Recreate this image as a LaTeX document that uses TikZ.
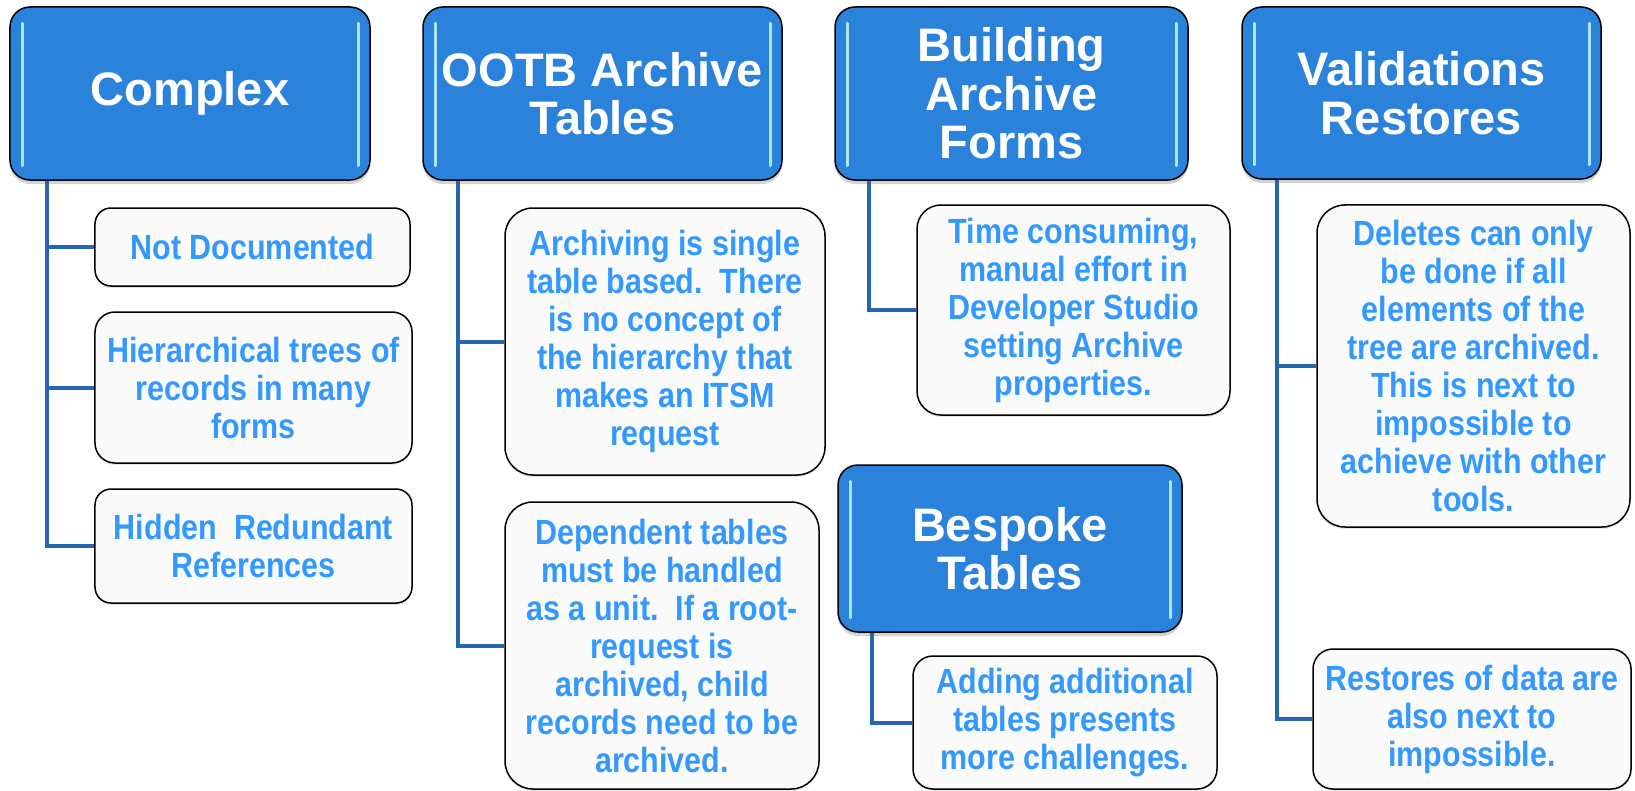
\documentclass[tikz,border=0pt]{standalone}
\usepackage{fontspec}
\setmainfont{Liberation Sans}
\newfontfamily\narrowfont{Liberation Sans}[FakeStretch=0.87]
\usetikzlibrary{shadows}
\definecolor{hdrblue}{RGB}{42,130,218}
\definecolor{txtblue}{RGB}{51,153,255}
\definecolor{connblue}{RGB}{38,102,176}
\definecolor{hilite}{RGB}{170,228,255}
\definecolor{boxfill}{RGB}{250,250,250}
\tikzset{
  hdr/.style={draw=black, line width=1.5bp, fill=hdrblue, rounded corners=20bp,
    text=white, align=center, inner sep=0pt,
    font=\bfseries\fontsize{47bp}{48.5bp}\selectfont,
    drop shadow={shadow xshift=0bp, shadow yshift=-4bp, opacity=0.35, fill=gray}},
  child/.style={draw=black, line width=1.5bp, fill=boxfill, rounded corners=16bp,
    text=txtblue, align=center, inner sep=0pt,
    font=\narrowfont\bfseries\fontsize{35bp}{38bp}\selectfont,
    drop shadow={shadow xshift=0bp, shadow yshift=-2bp, opacity=0.2, fill=gray}},
  bigchild/.style={child, rounded corners=28bp},
  conn/.style={draw=connblue, line width=4bp},
  hl/.style={draw=hilite, line width=3bp, line cap=round}
}
\begin{document}
\begin{tikzpicture}[x=1bp, y=-1bp]
\useasboundingbox (0,0) rectangle (1635,791);
% headers
\node[hdr, minimum width=360bp, minimum height=173bp] (cplx) at (190,93.5) {Complex};
\node[hdr, minimum width=359bp, minimum height=173bp] (ootb) at (602.5,93.5) {OOTB Archive\\Tables};
\node[hdr, minimum width=353bp, minimum height=173bp] (build) at (1011.5,93.5) {Building\\Archive\\Forms};
\node[hdr, minimum width=359bp, minimum height=172bp] (valid) at (1421.5,93) {Validations\\Restores};
\node[hdr, minimum width=344bp, minimum height=167bp] (besp) at (1010,548.5) {Bespoke\\Tables};
% highlight strips
\foreach \h in {cplx,ootb,build,valid,besp}{
  \draw[hl] ([xshift=13bp,yshift=-17bp]\h.north west) -- ([xshift=13bp,yshift=15bp]\h.south west);
  \draw[hl] ([xshift=-12bp,yshift=-17bp]\h.north east) -- ([xshift=-12bp,yshift=15bp]\h.south east);
}
% children
\node[child, minimum width=315bp, minimum height=78bp] (nd) at (252.5,247) {Not Documented};
\node[child, rounded corners=20bp, minimum width=317bp, minimum height=151bp] (hier) at (253.5,387.5) {Hierarchical trees of\\records in many\\forms};
\node[child, minimum width=317bp, minimum height=114bp] (hid) at (253.5,546) {Hidden\ \ Redundant\\References};
\node[bigchild, minimum width=320bp, minimum height=267bp] (arch) at (665,341.5) {Archiving is single\\table based.\ \ There\\is no concept of\\the hierarchy that\\makes an ITSM\\request};
\node[bigchild, minimum width=314bp, minimum height=287bp] (dep) at (662,645.5) {Dependent tables\\must be handled\\as a unit.\ \ If a root-\\request is\\archived, child\\records need to be\\archived.};
\node[bigchild, rounded corners=24bp, minimum width=313bp, minimum height=210bp] (time) at (1073.5,310) {Time consuming,\\manual effort in\\Developer Studio\\setting Archive\\properties.};
\node[child, rounded corners=20bp, minimum width=304bp, minimum height=133bp] (add) at (1065,722.5) {Adding additional\\tables presents\\more challenges.};
\node[bigchild, minimum width=313bp, minimum height=322bp] (del) at (1473.5,366) {Deletes can only\\be done if all\\elements of the\\tree are archived.\\This is next to\\impossible to\\achieve with other\\tools.};
\node[child, rounded corners=20bp, minimum width=318bp, minimum height=140bp] (res) at (1472,719) {Restores of data are\\also next to\\impossible.};
% connectors
\draw[conn] ([xshift=38bp]cplx.south west) |- (hid.west);
\draw[conn] ([xshift=38bp]cplx.south west |- nd.west) -- (nd.west);
\draw[conn] ([xshift=38bp]cplx.south west |- hier.west) -- (hier.west);
\draw[conn] ([xshift=36bp]ootb.south west) |- (dep.west);
\draw[conn] ([xshift=36bp]ootb.south west |- arch.west) -- (arch.west);
\draw[conn] ([xshift=35bp]build.south west) |- (time.west);
\draw[conn] ([xshift=35bp]besp.south west) |- (add.west);
\draw[conn] ([xshift=36bp]valid.south west) |- (res.west);
\draw[conn] ([xshift=36bp]valid.south west |- del.west) -- (del.west);
\end{tikzpicture}
\end{document}
